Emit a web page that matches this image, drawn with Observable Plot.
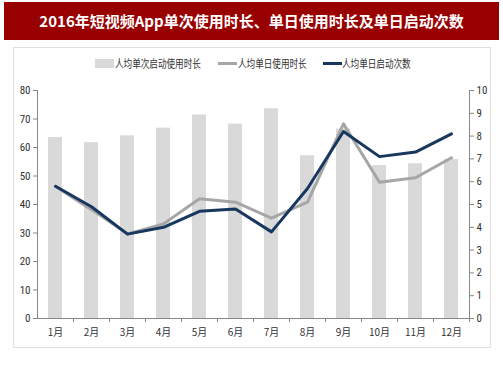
<!DOCTYPE html>
<html>
<head>
<meta charset="utf-8">
<script src="https://cdn.jsdelivr.net/npm/d3@7"></script>
<script src="https://cdn.jsdelivr.net/npm/@observablehq/plot@0.6"></script>
<style>
  html, body { margin: 0; padding: 0; background: #fff; }
  #wrap { position: relative; width: 503px; height: 378px; overflow: hidden; font-family: "Noto Sans CJK SC", sans-serif; }
  #title { position: absolute; left: 4px; top: 2px; width: 495px; height: 38px; background: #990000; color: #fff;
           font-size: 15px; font-weight: bold; line-height: 38px; text-align: center; letter-spacing: 0px; }
  #frame { position: absolute; left: 13px; top: 47px; width: 476px; height: 299px; border: 1px solid #e0e0e0; }
  #chart { position: absolute; left: 0; top: 0; }
  .leg { position: absolute; top: 55px; font-size: 11px; color: #333; line-height: 16px; white-space: nowrap;
         transform: scaleX(0.78); transform-origin: left center; }
  .sw { position: absolute; }
</style>
</head>
<body>
<div id="wrap">
  <div id="title"></div>
  <div id="frame"></div>
  <div id="chart"></div>
  <div id="legend"></div>
</div>
<script>
const months = ["1月","2月","3月","4月","5月","6月","7月","8月","9月","10月","11月","12月"];
const perLaunchMinutes = [63.5, 61.7, 64.1, 66.8, 71.4, 68.2, 73.6, 57.1, 66.5, 53.7, 54.3, 55.8];
const dailyMinutes = [46.3, 38.2, 29.7, 33.2, 42.0, 40.8, 35.2, 40.8, 68.3, 47.8, 49.4, 56.4];
const dailyLaunches = [5.8, 4.9, 3.7, 4.0, 4.7, 4.8, 3.8, 5.7, 8.2, 7.1, 7.3, 8.1];
const leftTicks = [0, 10, 20, 30, 40, 50, 60, 70, 80];
const rightTicks = [0, 1, 2, 3, 4, 5, 6, 7, 8, 9, 10];
const seriesNames = ["人均单次启动使用时长", "人均单日使用时长", "人均单日启动次数"];
const titleText = "2016年短视频App单次使用时长、单日使用时长及单日启动次数";

const colors = ["#d9d9d9", "#a6a6a6", "#17375e"];
const ratio = 80 / 10; // right axis 0–10 maps onto left axis 0–80

const data = months.map((m, i) => ({
  month: m, perLaunch: perLaunchMinutes[i], daily: dailyMinutes[i], launches: dailyLaunches[i]
}));

document.getElementById("title").textContent = titleText;

const tickFont = "'Liberation Sans Narrow', 'Roboto Condensed', 'DejaVu Sans Condensed', sans-serif";

const chart = Plot.plot({
  width: 503,
  height: 378,
  marginLeft: 37,
  marginRight: 34,
  marginTop: 90,
  marginBottom: 60,
  style: { background: "transparent", fontFamily: tickFont, fontSize: "11px", color: "#333" },
  x: { domain: months, paddingInner: 0.6, paddingOuter: 0.3, axis: null, label: null },
  y: { domain: [0, 80], axis: null, label: null },
  marks: [
    Plot.barY(data, { x: "month", y: "perLaunch", fill: colors[0] }),
    Plot.line(data, { x: "month", y: "daily", stroke: colors[1], strokeWidth: 3 }),
    Plot.line(data, { x: "month", y: d => d.launches * ratio, stroke: colors[2], strokeWidth: 3 }),
    Plot.ruleY([0], { stroke: "#888" }),
    Plot.ruleX([months[0]], { dx: -18, y1: 0, y2: 80, stroke: "#888" }),
    Plot.ruleX([months[11]], { dx: 18, y1: 0, y2: 80, stroke: "#888" }),
    Plot.ruleX(months, { x: d => d, dx: 18, y1: 0, y2: -1.5, stroke: "#888" }),
    Plot.axisY(leftTicks, { anchor: "left", tickSize: 4, tickPadding: 3, stroke: "#888", fill: "#333", label: null }),
    Plot.axisY(rightTicks.map(d => d * ratio), { anchor: "right", tickSize: 4, tickPadding: 3, tickFormat: d => d / ratio, stroke: "#888", fill: "#333", label: null }),
    Plot.axisX(months, { anchor: "bottom", tickSize: 0, tickPadding: 10, fill: "#333", fontFamily: "'Noto Sans CJK SC', sans-serif", fontSize: 10, label: null })
  ]
});
document.getElementById("chart").appendChild(chart);

// legend
const legend = document.getElementById("legend");
const legendItems = [
  { name: seriesNames[0], type: "rect", color: colors[0], sx: 95, tx: 115 },
  { name: seriesNames[1], type: "line", color: colors[1], sx: 218, tx: 238 },
  { name: seriesNames[2], type: "line", color: colors[2], sx: 323, tx: 342 }
];
legendItems.forEach(it => {
  const sw = document.createElement("div");
  sw.className = "sw";
  sw.style.left = it.sx + "px";
  sw.style.background = it.color;
  if (it.type === "rect") { sw.style.top = "59px"; sw.style.width = "19px"; sw.style.height = "9px"; }
  else { sw.style.top = "62px"; sw.style.width = "19px"; sw.style.height = "3px"; }
  legend.appendChild(sw);
  const t = document.createElement("div");
  t.className = "leg";
  t.style.left = it.tx + "px";
  t.textContent = it.name;
  legend.appendChild(t);
});
</script>
</body>
</html>
